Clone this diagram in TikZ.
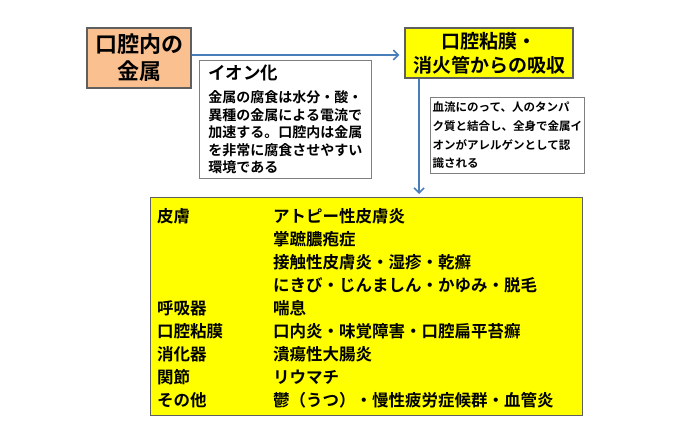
\documentclass[tikz,border=0pt]{standalone}
\usepackage{fontspec}
\usepackage{xcolor}
\usepackage{tikz}
\usetikzlibrary{arrows.meta}
\newfontfamily\cjkb{Noto Sans CJK JP Bold}
\definecolor{boxorange}{RGB}{250,192,144}
\definecolor{boxyellow}{RGB}{255,255,0}
\definecolor{arrowblue}{RGB}{74,126,187}
\definecolor{framegray}{RGB}{95,95,95}

\begin{document}
\begin{tikzpicture}[x=1pt, y=-1pt,
		box/.style={draw=framegray, line width=1.1pt, inner sep=0pt},
		note/.style={draw=framegray!80, line width=0.9pt, fill=white, inner sep=0pt, align=left},
		conn/.style={arrowblue, line width=1.6pt, -{Straight Barb[length=5pt,width=10pt]}}]
				% Frame
				\useasboundingbox (0,0) rectangle (700,440);
				
				% Metal in the mouth
				\node[box, fill=boxorange, minimum width=104pt, minimum height=60pt, align=center,
					font=\cjkb\fontsize{22}{27}\selectfont] (metal) at (139,58) {口腔内の\\金属};
				
				% Absorption
				\node[box, fill=boxyellow, minimum width=168pt, minimum height=50pt, align=center,
					font=\cjkb\fontsize{19}{24}\selectfont] (absorb) at (489,53) {口腔粘膜・\\消火管からの吸収};
				
				% Ionisation note
				\node[note, anchor=north west, minimum width=172pt, minimum height=118pt,
					font=\cjkb\fontsize{14}{17.5}\selectfont] (ion) at (199,60)
					{{\fontsize{17.5}{20}\selectfont イオン化}\\[6pt]
					金属の腐食は水分・酸・\\異種の金属による電流で\\加速する。口腔内は金属\\を非常に腐食させやすい\\環境である};
				
				% Bloodstream note
				\node[note, anchor=north west, minimum width=154pt, minimum height=76pt,
					font=\cjkb\fontsize{11.5}{18.7}\selectfont] (blood) at (430,97)
					{血流にのって、人のタンパ\\ク質と結合し、全身で金属イ\\オンがアレルゲンとして認\\識される};
				
				% Symptoms
				\node[box, fill=boxyellow, anchor=north west, minimum width=432pt, minimum height=218pt] (effects) at (150,197) {};
				\node[anchor=north west, inner sep=0pt, font=\cjkb\fontsize{16.5}{23}\selectfont] (effectlist) at (157,206)
					{\begin{tabular}{@{}p{116pt}@{}l@{}}
						皮膚 & アトピー性皮膚炎\\
						 & 掌蹠膿疱症\\
						 & 接触性皮膚炎・湿疹・乾癬\\
						 & にきび・じんましん・かゆみ・脱毛\\
						呼吸器 & 喘息\\
						口腔粘膜 & 口内炎・味覚障害・口腔扁平苔癬\\
						消化器 & 潰瘍性大腸炎\\
						関節 & リウマチ\\
						その他 & 鬱（うつ）・慢性疲労症候群・血管炎
					\end{tabular}};
				
				% Arrows
				\draw[conn, shorten >=5pt] ([yshift=3pt]metal.east) -- ([yshift=3pt]metal.east -| absorb.west);
				\draw[conn, shorten >=3pt] ([xshift=-70pt]absorb.south) -- ([xshift=-70pt]absorb.south |- effects.north);
				
\end{tikzpicture}
\end{document}
